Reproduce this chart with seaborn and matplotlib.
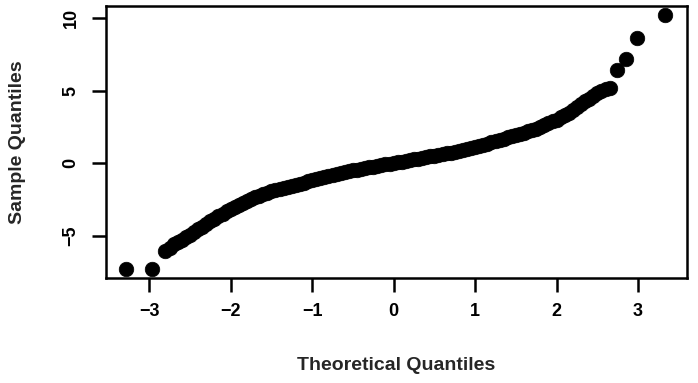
import matplotlib
matplotlib.use("Agg")
import matplotlib.pyplot as plt
import seaborn as sns
import pandas as pd

# Theoretical quantiles (x) and sample quantiles (y)
theoretical = [-3.28, -2.96, -2.80,
               -2.75, -2.70, -2.65, -2.60, -2.55, -2.50, -2.45, -2.40,
               -2.35, -2.30, -2.25, -2.20, -2.15, -2.10, -2.05, -2.00,
               -1.95, -1.90, -1.85, -1.80, -1.75, -1.70, -1.65, -1.60,
               -1.55, -1.50, -1.45, -1.40, -1.35, -1.30, -1.25, -1.20,
               -1.15, -1.10, -1.05, -1.00, -0.95, -0.90, -0.85, -0.80,
               -0.75, -0.70, -0.65, -0.60, -0.55, -0.50, -0.45, -0.40,
               -0.35, -0.30, -0.25, -0.20, -0.15, -0.10, -0.05, 0.00,
               0.05, 0.10, 0.15, 0.20, 0.25, 0.30, 0.35, 0.40,
               0.45, 0.50, 0.55, 0.60, 0.65, 0.70, 0.75, 0.80,
               0.85, 0.90, 0.95, 1.00, 1.05, 1.10, 1.15, 1.20,
               1.25, 1.30, 1.35, 1.40, 1.45, 1.50, 1.55, 1.60,
               1.65, 1.70, 1.75, 1.80, 1.85, 1.90, 1.95, 2.00,
               2.05, 2.10, 2.15, 2.20, 2.25, 2.30, 2.35, 2.40,
               2.45, 2.50, 2.55, 2.60, 2.65,
               2.74, 2.85, 2.99, 3.33]
sample = [-7.30, -7.30, -6.10,
          -5.85, -5.60, -5.45, -5.30, -5.12, -4.95, -4.75, -4.55,
          -4.38, -4.20, -4.02, -3.85, -3.68, -3.50, -3.32, -3.15,
          -3.02, -2.90, -2.75, -2.60, -2.47, -2.35, -2.25, -2.15,
          -2.05, -1.95, -1.87, -1.80, -1.72, -1.65, -1.57, -1.50,
          -1.42, -1.35, -1.27, -1.20, -1.12, -1.05, -0.97, -0.90,
          -0.82, -0.75, -0.68, -0.62, -0.56, -0.50, -0.45, -0.40,
          -0.35, -0.30, -0.25, -0.20, -0.15, -0.10, -0.05, 0.00,
          0.05, 0.10, 0.15, 0.20, 0.25, 0.30, 0.35, 0.40,
          0.45, 0.50, 0.55, 0.60, 0.66, 0.72, 0.78, 0.85,
          0.91, 0.97, 1.03, 1.10, 1.17, 1.25, 1.33, 1.42,
          1.51, 1.60, 1.69, 1.78, 1.87, 1.95, 2.02, 2.10,
          2.18, 2.27, 2.38, 2.50, 2.62, 2.75, 2.87, 3.00,
          3.15, 3.30, 3.47, 3.65, 3.88, 4.10, 4.27, 4.45,
          4.65, 4.85, 4.98, 5.10, 5.20,
          6.40, 7.20, 8.60, 10.20]

x_ticks = [-3, -2, -1, 0, 1, 2, 3]
y_ticks = [-5, 0, 5, 10]
x_label = "Theoretical Quantiles"
y_label = "Sample Quantiles"

df = pd.DataFrame({"theoretical": theoretical, "sample": sample})

sns.set_theme(style="ticks")
plt.rcParams["font.family"] = ["Liberation Sans", "DejaVu Sans"]

fig = plt.figure(figsize=(6.98, 3.83), dpi=100)
ax = fig.add_axes([106 / 698, 1 - 278 / 383, (687 - 106) / 698, (278 - 6) / 383])

sns.scatterplot(data=df, x="theoretical", y="sample", ax=ax,
                color="black", edgecolor="black", s=110, linewidth=0.5)

ax.set_xlim(-3.53, 3.60)
ax.set_ylim(-7.93, 10.83)
ax.set_xticks(x_ticks)
ax.set_xticklabels([("\u2212" + str(abs(t))) if t < 0 else str(t) for t in x_ticks])
ax.set_yticks(y_ticks)
ax.set_yticklabels([("\u2212" + str(abs(t))) if t < 0 else str(t) for t in y_ticks])

for sp in ax.spines.values():
    sp.set_visible(True)
    sp.set_color("black")
    sp.set_linewidth(1.8)

ax.tick_params(axis="both", direction="out", length=10, width=1.8,
               colors="black", labelsize=13)
ax.tick_params(axis="x", pad=8)
ax.tick_params(axis="y", pad=9, labelrotation=90)
for lab in ax.get_yticklabels():
    lab.set_verticalalignment("center")
for lab in ax.get_xticklabels() + ax.get_yticklabels():
    lab.set_fontweight("bold")

ax.set_xlabel(x_label, fontsize=14, fontweight="bold")
ax.set_ylabel(y_label, fontsize=14, fontweight="bold")
ax.xaxis.set_label_coords(0.5, (278 - 365) / 272)
ax.xaxis.label.set_verticalalignment("center")
ax.yaxis.set_label_coords((18 - 106) / 581, 0.5)
ax.yaxis.label.set_verticalalignment("center")
ax.yaxis.label.set_horizontalalignment("center")

ax.grid(False)
fig.savefig("out.png", dpi=100)
